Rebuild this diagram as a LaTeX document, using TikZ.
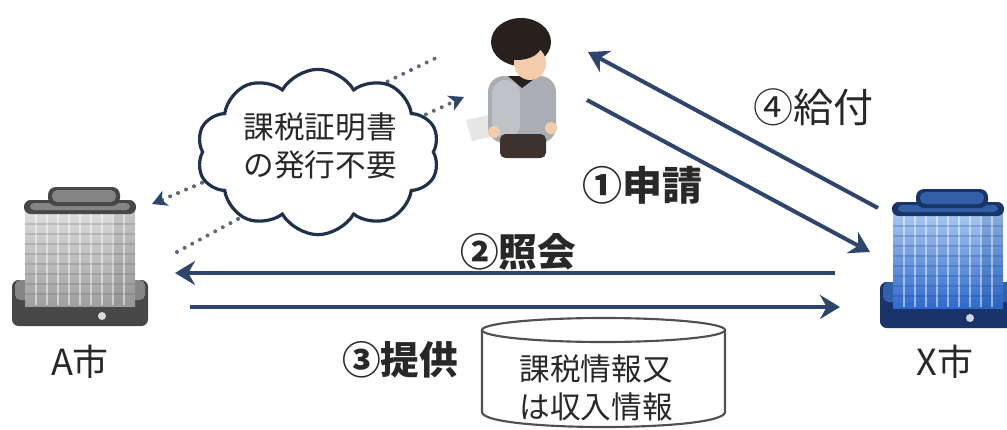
\documentclass[tikz,border=0pt]{standalone}
\usepackage{fontspec}
\setmainfont{Noto Sans CJK JP}
\usetikzlibrary{arrows.meta,shapes.symbols}

\definecolor{navy}{RGB}{46,70,108}
\definecolor{ink}{RGB}{40,40,40}
\definecolor{dotc}{RGB}{95,105,120}
\definecolor{dbline}{RGB}{80,80,80}
\definecolor{hair}{RGB}{40,32,28}
\definecolor{skin}{RGB}{244,204,172}
\definecolor{shirt}{RGB}{170,174,180}
\definecolor{pants}{RGB}{62,50,46}

\tikzset{
  flow/.style={draw=navy, line width=3pt,
    -{Stealth[length=15pt,width=18pt,inset=5pt]}},
  hint/.style={draw=dotc, line width=3pt, line cap=round,
    dash pattern=on 0.01pt off 6.5pt},
  hinttip/.style={hint, -{Stealth[length=11pt,width=12pt,inset=3pt,color=navy]}},
  lbl/.style={text=ink, font=\fontsize{29pt}{33pt}\selectfont\bfseries, inner sep=0pt},
  city/.style={text=ink, font=\fontsize{27pt}{30pt}\selectfont, inner sep=0pt},
  note/.style={text=ink, font=\fontsize{23pt}{29pt}\selectfont, align=center, inner sep=0pt},
  tower/.pic={
    % base slab
    \fill[twdark, rounded corners=5] (-68,30) rectangle (68,76);
    \fill[twmid, rounded corners=4] (-65,30) rectangle (65,50);
    % body with window grid
    \shade[top color=twlight, bottom color=twbody] (-55,-44) rectangle (55,56);
    \fill[twbody!75!black, opacity=0.22] (32,-44) rectangle (55,56);
    \foreach \i in {-44,-33,...,50}
      \draw[white, opacity=0.5, line width=1.2pt] (\i,-36) -- (\i,55);
    \foreach \j in {-26,-16,...,52}
      \draw[twbody!60!black, opacity=0.22, line width=0.8pt] (-55,\j) -- (55,\j);
    % top face and roof cap
    \fill[twdark, rounded corners=5] (-56,-50) rectangle (56,-36);
    \fill[twmid, rounded corners=3] (-50,-47) rectangle (50,-40);
    \fill[twdark, rounded corners=6] (-32,-63) rectangle (40,-44);
    \fill[twmid, rounded corners=4] (-28,-60) rectangle (36,-48);
    % lamp on the base
    \fill[white, opacity=0.8] (22,66) circle (4);
  }
}

\begin{document}
\begin{tikzpicture}[x=0.75pt, y=-0.75pt]
\useasboundingbox (0,0) rectangle (1007,429);

% ---- city buildings ----
\begin{scope}
  \colorlet{twdark}{black!72}
  \colorlet{twmid}{black!48}
  \colorlet{twbody}{black!38}
  \colorlet{twlight}{black!12}
  \pic (A) at (80,250) {tower};
\end{scope}
\begin{scope}
  \definecolor{twdark}{RGB}{25,52,105}
  \definecolor{twmid}{RGB}{50,95,165}
  \definecolor{twbody}{RGB}{45,105,205}
  \definecolor{twlight}{RGB}{175,205,242}
  \pic (X) at (948,252) {tower};
\end{scope}
\node[city] (Alabel) at (80,362) {A市};
\node[city] (Xlabel) at (945,362) {X市};

% ---- applicant ----
\begin{scope}
  \fill[black!12, opacity=0.8] (466,120) -- (498,113) -- (504,134) -- (472,141) -- cycle;
  \fill[shirt, rounded corners=12] (488,76) rectangle (556,143);
  \fill[white, opacity=0.25, rounded corners=10] (492,80) rectangle (520,138);
  \fill[pants, rounded corners=4] (500,134) rectangle (546,158);
  \fill[hair] (508,76) -- (522,88) -- (538,76) -- cycle;
  \fill[hair] (521,42) ellipse [x radius=30, y radius=24];
  \fill[skin] (530,63) ellipse [x radius=16, y radius=17];
  \fill[hair] (517,46) ellipse [x radius=24, y radius=14];
  \fill[skin] (494,132) circle (6);
  \fill[skin] (551,128) circle (6);
\end{scope}
\coordinate (person) at (522,90);

% ---- dotted hints through the cloud ----
\coordinate (h1a) at (177,252); \coordinate (h1b) at (262,206);
\coordinate (h2a) at (372,89);  \coordinate (h2b) at (442,55);
\coordinate (h3a) at (218,176); \coordinate (h3b) at (152,204);
\coordinate (h4a) at (418,118); \coordinate (h4b) at (464,97);
\draw[hint] (h1a) -- (h1b);
\draw[hint] (h2a) -- (h2b);
\draw[hinttip] (h3a) -- (h3b);
\draw[hinttip] (h4a) -- (h4b);

\node[cloud, cloud puffs=10, cloud puff arc=120, aspect=1.5,
      draw=navy!70!black, line width=2.4pt, fill=white,
      minimum width=182pt, minimum height=124pt, inner sep=0pt]
      (cloud) at (318,152) {};
\node[note] (cloudtext) at (320,146) {課税証明書\\の発行不要};

% ---- application and benefit ----
\coordinate (r1s) at (587,100); \coordinate (r1e) at (870,252);
\coordinate (r4s) at (878,208); \coordinate (r4e) at (588,52);
\draw[flow] (r1s) -- (r1e);
\draw[flow] (r4s) -- (r4e);
\node[lbl, font=\fontsize{30pt}{33pt}\selectfont\bfseries] (l1) at (642,185) {①申請};
\node[lbl, font=\fontsize{30pt}{33pt}\selectfont] (l4) at (813,107) {④給付};

% ---- inquiry and provision between the cities ----
\coordinate (q2s) at (835,273); \coordinate (q2e) at (175,273);
\coordinate (p3s) at (190,307); \coordinate (p3e) at (840,307);
\draw[flow] (q2s) -- (q2e);
\draw[flow] (p3s) -- (p3e);
\node[lbl] (l2) at (518,252) {②照会};
\node[lbl] (l3) at (400,360) {③提供};

% ---- tax data store ----
\draw[dbline, line width=1.6pt, fill=white]
  (482,330) -- (482,412) .. controls (482,432) and (725,432) .. (725,412) -- (725,330);
\draw[dbline, line width=1.6pt, fill=white] (603.5,330) ellipse [x radius=121.5, y radius=12];
\node[note] (dbtext) at (596,388) {課税情報又\\は収入情報};
\end{tikzpicture}
\end{document}
